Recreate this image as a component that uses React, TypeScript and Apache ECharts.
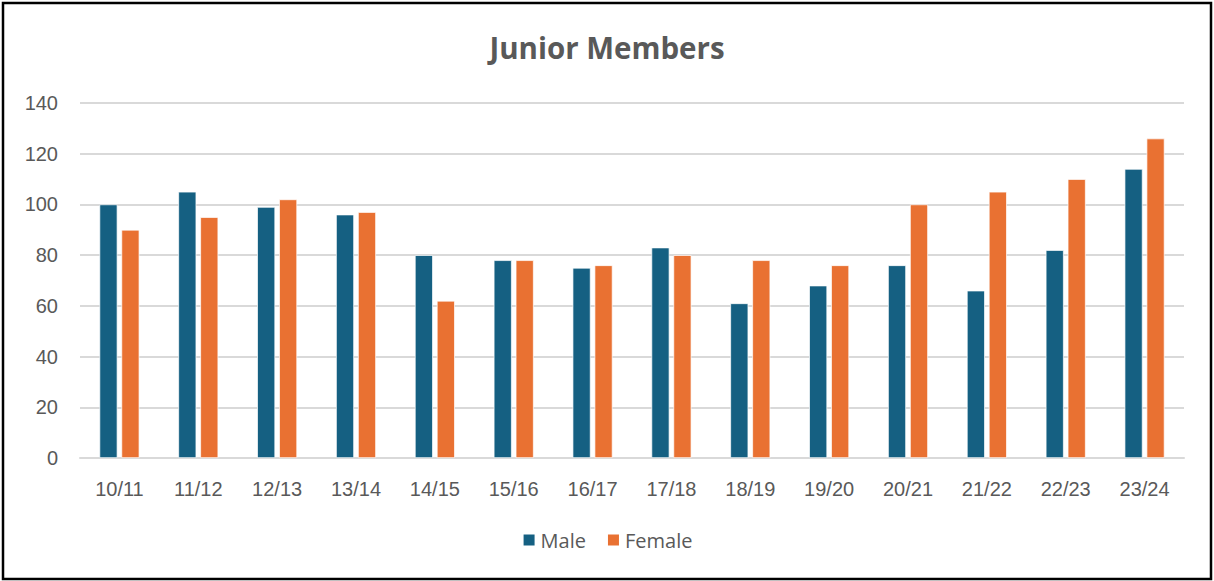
import React, { useEffect, useRef } from "react";
import * as echarts from "echarts";

const categories = ["10/11", "11/12", "12/13", "13/14", "14/15", "15/16", "16/17", "17/18", "18/19", "19/20", "20/21", "21/22", "22/23", "23/24"];
const maleValues = [100, 105, 99, 96, 80, 78, 75, 83, 61, 68, 76, 66, 82, 114];
const femaleValues = [90, 95, 102, 97, 62, 78, 76, 80, 78, 76, 100, 105, 110, 126];
const seriesNames = ["Male", "Female"];
const titleText = "Junior Members";

export default function App() {
  const ref = useRef<HTMLDivElement>(null);
  useEffect(() => {
    document.body.style.margin = "0";
    const chart = echarts.init(ref.current!, undefined, { renderer: "svg" });
    const labelColor = "#595959";
    chart.setOption({
      animation: false,
      backgroundColor: "#ffffff",
      title: {
        text: titleText,
        left: "center",
        top: 27,
        textStyle: { fontFamily: "Open Sans", fontWeight: "bold", fontSize: 29.5, color: labelColor },
      },
      legend: {
        bottom: 26,
        left: "center",
        itemWidth: 13,
        itemHeight: 13,
        itemGap: 20,
        icon: "rect",
        textStyle: { fontFamily: "Open Sans", fontSize: 20, color: labelColor },
        data: seriesNames,
      },
      grid: { left: 80, right: 30, top: 103, bottom: 123, containLabel: false },
      xAxis: {
        type: "category",
        data: categories,
        axisLine: { lineStyle: { color: "#d9d9d9", width: 2 } },
        axisTick: { show: false },
        axisLabel: { fontFamily: "Liberation Sans", fontSize: 20, color: labelColor, margin: 21 },
      },
      yAxis: {
        type: "value",
        min: 0,
        max: 140,
        interval: 20,
        axisLine: { show: false },
        axisTick: { show: false },
        axisLabel: { fontFamily: "Liberation Sans", fontSize: 20, color: labelColor, margin: 22 },
        splitLine: { lineStyle: { color: "#d9d9d9", width: 2 } },
      },
      series: [
        {
          name: seriesNames[0],
          type: "bar",
          data: maleValues,
          barWidth: 18,
          barGap: "22%",
          itemStyle: { color: "#156082", borderColor: "#ffffff", borderWidth: 0.7 },
        },
        {
          name: seriesNames[1],
          type: "bar",
          data: femaleValues,
          barWidth: 18,
          itemStyle: { color: "#E97132", borderColor: "#ffffff", borderWidth: 0.7 },
        },
      ],
      graphic: [
        {
          type: "rect",
          shape: { x: 3, y: 3, width: 1208, height: 576 },
          style: { fill: "none", stroke: "#000000", lineWidth: 2.5 },
          silent: true,
        },
      ],
    });
    return () => chart.dispose();
  }, []);
  return <div ref={ref} style={{ width: 1214, height: 581 }} />;
}
